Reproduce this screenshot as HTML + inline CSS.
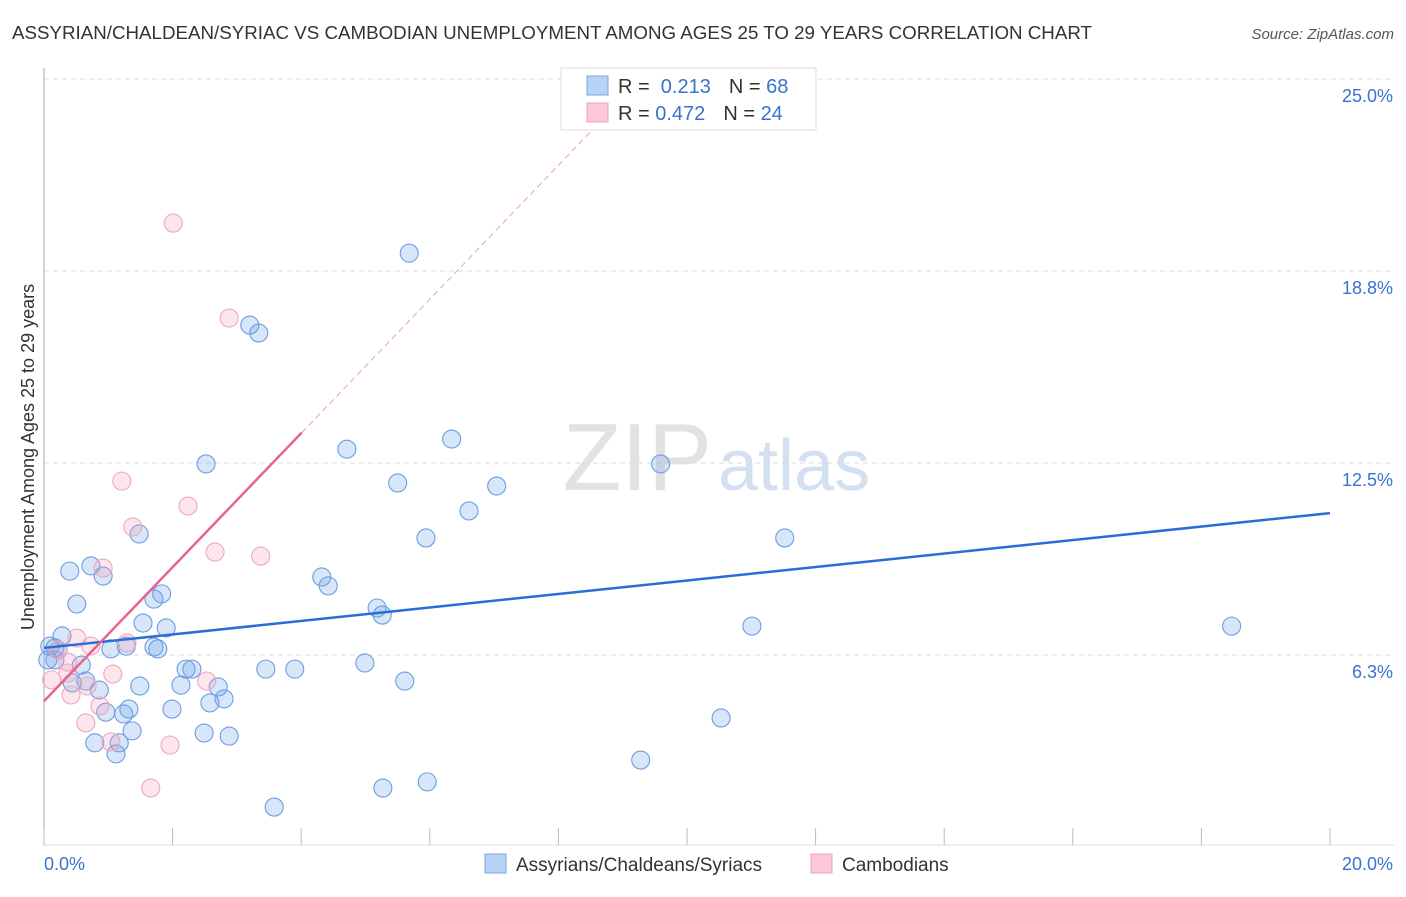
<!DOCTYPE html>
<html><head><meta charset="utf-8"><style>
body{margin:0;background:#fff;font-family:"Liberation Sans",sans-serif;}
svg text{font-family:"Liberation Sans",sans-serif;}
</style></head><body>
<svg width="1406" height="892" viewBox="0 0 1406 892" xmlns="http://www.w3.org/2000/svg">
<text x="12" y="39" font-size="18" fill="#333" textLength="1080" lengthAdjust="spacingAndGlyphs">ASSYRIAN/CHALDEAN/SYRIAC VS CAMBODIAN UNEMPLOYMENT AMONG AGES 25 TO 29 YEARS CORRELATION CHART</text>
<text x="1394" y="39" font-size="15" fill="#555" text-anchor="end" font-style="italic">Source: ZipAtlas.com</text>
<g>
<text x="712" y="490" font-size="96" fill="#e2e2e2" text-anchor="end" font-family="Liberation Serif">ZIP</text>
<text x="718" y="490" font-size="72" fill="#d3e0f2">atlas</text>
</g>
<g id="grid"></g>
<g id="axes"></g>
<g id="marks"></g>
<g id="trends"></g>
<g>
<rect x="561" y="68" width="255" height="62" fill="#fff" stroke="#ddd"/>
<rect x="587" y="76" width="21" height="19" fill="#b8d3f5" stroke="#7aa7e0"/>
<rect x="587" y="103" width="21" height="19" fill="#fcc8d8" stroke="#eea0b8"/>
<text x="618" y="93" font-size="20" fill="#333">R = <tspan fill="#3a72d0">&#160;0.213</tspan><tspan dx="18">N = </tspan><tspan fill="#3a72d0">68</tspan></text>
<text x="618" y="120" font-size="20" fill="#333">R = <tspan fill="#3a72d0">0.472</tspan><tspan dx="18">N = </tspan><tspan fill="#3a72d0">24</tspan></text>
</g>
<text transform="translate(34,457) rotate(-90)" font-size="18" fill="#333" text-anchor="middle">Unemployment Among Ages 25 to 29 years</text>
<g>
<rect x="485" y="854" width="21" height="19" fill="#b8d3f5" stroke="#7aa7e0"/>
<text x="516" y="871" font-size="19" fill="#333">Assyrians/Chaldeans/Syriacs</text>
<rect x="811" y="854" width="21" height="19" fill="#fcc8d8" stroke="#eea0b8"/>
<text x="842" y="871" font-size="19" fill="#333">Cambodians</text>
</g>
</svg>
<script>
const yTicks=[6.25,12.5,18.75,25];
const yTickLabels=["6.3%","12.5%","18.8%","25.0%"];
const xTicks=[0,2,4,6,8,10,12,14,16,18,20];
const xEndLabels=["0.0%","20.0%"];
const blueX=[5.68,3.20,3.34,4.71,6.34,2.52,9.59,5.50,7.04,6.61,1.48,5.94,11.52,0.73,0.40,0.92,4.32,4.42,1.83,1.71,0.51,5.18,5.26,1.54,1.90,11.01,18.47,0.28,1.71,1.77,1.04,1.28,0.09,0.22,0.17,0.58,4.99,2.21,2.30,3.45,3.90,0.65,0.44,2.71,2.13,1.49,5.61,0.86,2.80,2.58,0.96,1.32,1.24,1.99,10.53,1.37,2.49,2.88,0.79,1.17,1.12,9.28,5.96,5.27,3.58,0.17,0.06];
const blueY=[19.33,16.99,16.73,12.95,13.28,12.47,12.47,11.85,11.75,10.94,10.19,10.06,10.06,9.15,8.98,8.82,8.79,8.50,8.24,8.07,7.91,7.78,7.55,7.29,7.13,7.19,7.19,6.87,6.51,6.45,6.45,6.54,6.54,6.41,6.09,5.92,5.99,5.79,5.79,5.79,5.79,5.40,5.34,5.21,5.27,5.24,5.40,5.11,4.82,4.69,4.39,4.49,4.33,4.49,4.20,3.78,3.71,3.61,3.39,3.39,3.03,2.83,2.12,1.92,1.30,6.48,6.09];
const pinkX=[2.01,2.88,1.21,2.24,1.38,0.92,2.66,3.37,0.51,0.73,1.29,0.37,0.12,1.07,0.37,0.67,2.53,0.42,0.87,0.65,1.04,1.96,1.66,0.22];
const pinkY=[20.31,17.22,11.91,11.10,10.42,9.08,9.60,9.47,6.80,6.54,6.64,6.02,5.44,5.63,5.66,5.24,5.40,4.95,4.59,4.04,3.42,3.32,1.92,6.41];
const blueTrend=[6.48,10.87]; // y at x=0 and x=20
const pinkTrend=[4.75,2.18]; // intercept, slope
const NS="http://www.w3.org/2000/svg";
const X0=44,X1=1330,Y0=847,PPU=192/6.25;
const sx=v=>X0+(v/20)*(X1-X0);
const sy=v=>Y0-v*PPU;
function mk(tag,attrs,parent){const e=document.createElementNS(NS,tag);for(const k in attrs)e.setAttribute(k,attrs[k]);parent.appendChild(e);return e;}
const grid=document.getElementById('grid'),axes=document.getElementById('axes'),marks=document.getElementById('marks'),trends=document.getElementById('trends');
yTicks.forEach((t,i)=>{
 const l=mk('line',{x1:X0,x2:1394,y1:sy(t),y2:sy(t),stroke:'#ddd','stroke-dasharray':'5,4'},grid);
 
 
 const tx=mk('text',{x:1393,y:sy(t)+23,'font-size':18,fill:'#3a72d0','text-anchor':'end'},grid);
 tx.textContent=yTickLabels[i];
 
 
});
const ya=mk('line',{x1:X0,x2:X0,y1:68,y2:845,stroke:'#aaa'},axes);


const xa=mk('line',{x1:X0,x2:1394,y1:845,y2:845,stroke:'#ddd'},axes);


xTicks.forEach(t=>{
 const l=mk('line',{x1:sx(t),x2:sx(t),y1:828,y2:845,stroke:'#bbb'},axes);
 
 
});
const xl0=mk('text',{x:44,y:870,'font-size':18,fill:'#3a72d0'},axes);xl0.textContent=xEndLabels[0];


const xl1=mk('text',{x:1393,y:870,'font-size':18,fill:'#3a72d0','text-anchor':'end'},axes);xl1.textContent=xEndLabels[1];


blueX.forEach((v,i)=>{
 const c=mk('circle',{cx:sx(v),cy:sy(blueY[i]),r:9,fill:'rgba(110,165,235,0.28)',stroke:'#6c9ce0','stroke-width':1.1},marks);
 
 
});
pinkX.forEach((v,i)=>{
 const c=mk('circle',{cx:sx(v),cy:sy(pinkY[i]),r:9,fill:'rgba(245,160,185,0.28)',stroke:'#eda8be','stroke-width':1.1},marks);
 
 
});
const bt=mk('line',{x1:sx(0),y1:sy(blueTrend[0]),x2:sx(20),y2:sy(blueTrend[1]),stroke:'#2a6dd6','stroke-width':2.5},trends);


const pEnd=4.01,pTop=(25-pinkTrend[0])/pinkTrend[1];
const pd=mk('line',{x1:sx(pEnd),y1:sy(pinkTrend[0]+pinkTrend[1]*pEnd),x2:sx(pTop),y2:sy(25),stroke:'#e8a0b8','stroke-width':1,'stroke-dasharray':'6,4'},trends);


const pt=mk('line',{x1:sx(0),y1:sy(pinkTrend[0]),x2:sx(pEnd),y2:sy(pinkTrend[0]+pinkTrend[1]*pEnd),stroke:'#e8648e','stroke-width':2.5},trends);


</script>
</body></html>
